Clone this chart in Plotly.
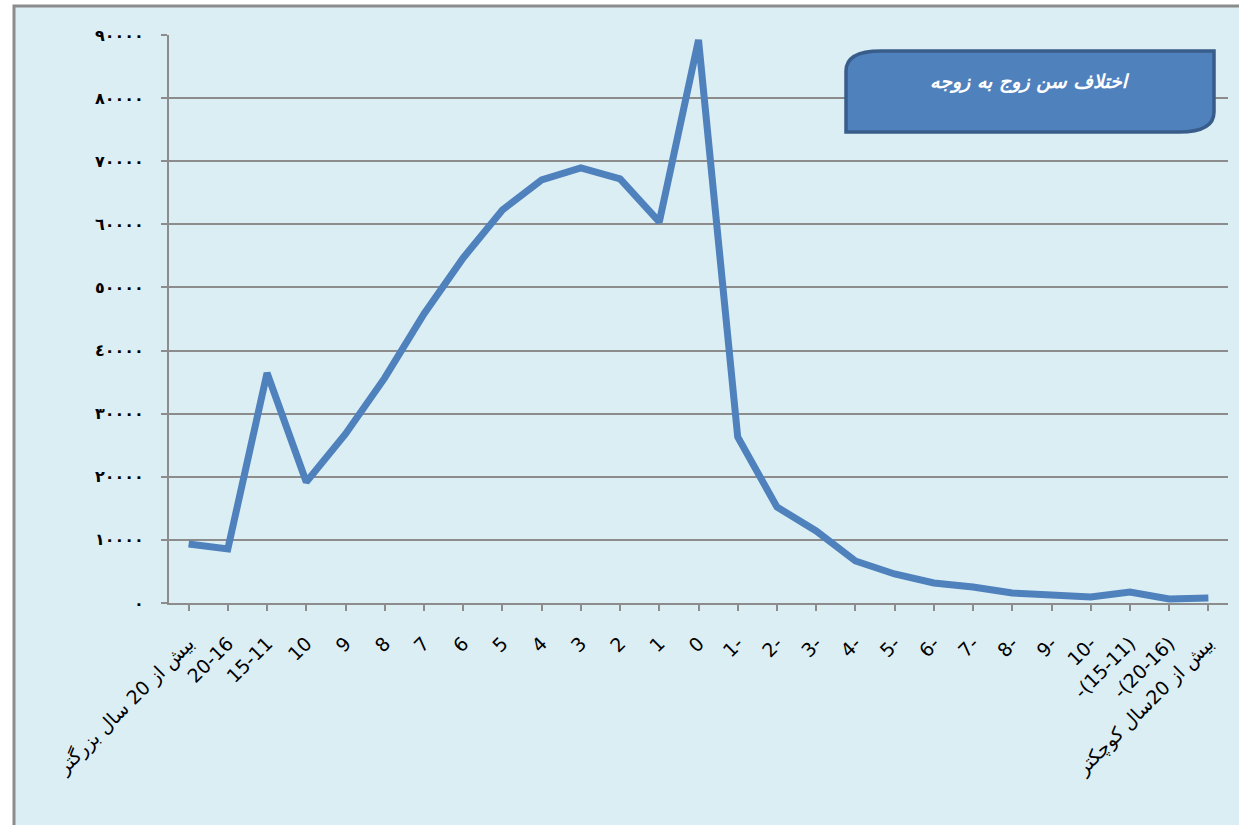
import plotly.graph_objects as go

categories = [
    "بیش از 20 سال بزرگتر", "20-16", "15-11", "10", "9", "8", "7", "6", "5",
    "4", "3", "2", "1", "0", "1-", "2-", "3-", "4-", "5-", "6-", "7-", "8-",
    "9-", "10-", "-(15-11)", "-(20-16)", "بیش از 20سال کوچکتر",
]
values = [
    9350, 8560, 36450, 19180, 26780, 35660, 45800, 54670, 62280, 67040,
    68940, 67200, 60380, 89220, 26300, 15210, 11410, 6660, 4600, 3170,
    2540, 1580, 1270, 950, 1740, 630, 790,
]
y_tickvals = [0, 10000, 20000, 30000, 40000, 50000, 60000, 70000, 80000, 90000]
y_ticktext = ["٠", "١٠٠٠٠", "٢٠٠٠٠", "٣٠٠٠٠", "٤٠٠٠٠", "٥٠٠٠٠",
              "٦٠٠٠٠", "٧٠٠٠٠", "٨٠٠٠٠", "٩٠٠٠٠"]
title_text = "اختلاف سن زوج به زوجه"

fig = go.Figure()
fig.add_trace(go.Scatter(
    x=list(range(len(categories))), y=values, mode="lines",
    line=dict(color="#4F81BD", width=7), hoverinfo="skip",
))

W, H = 1239, 825
L, R, T, B = 169, 1228, 35, 603
pw, ph = R - L, B - T

def px(x):
    return (x - L) / pw

def py(y):
    return 1 - (y - T) / ph

shapes = []
shapes.append(dict(type="rect", xref="paper", yref="paper",
                   x0=px(14), x1=px(1250), y0=py(840), y1=py(6),
                   fillcolor="#DBEEF4", line=dict(color="#8C8C8C", width=3),
                   layer="below"))
x0, x1 = px(846), px(1214)
yt, yb = py(51), py(132)
rx, ry = 35 / pw, 20 / ph
path = (f"M {x0},{yb} L {x0},{yt - ry} Q {x0},{yt} {x0 + rx},{yt} "
        f"L {x1},{yt} L {x1},{yb + ry} Q {x1},{yb} {x1 - rx},{yb} Z")
shapes.append(dict(type="path", xref="paper", yref="paper", path=path,
                   fillcolor="#4F81BD", line=dict(color="#385D8A", width=3.5),
                   layer="above"))

fig.update_layout(
    width=W, height=H,
    margin=dict(l=L, r=W - R, t=T, b=H - B),
    paper_bgcolor="white",
    plot_bgcolor="rgba(0,0,0,0)",
    showlegend=False,
    shapes=shapes,
    font=dict(family="DejaVu Sans", color="black"),
    annotations=[dict(
        text=f"<b><i>{title_text}</i></b>", xref="paper", yref="paper",
        x=px(1030), y=py(81), showarrow=False,
        font=dict(family="DejaVu Sans", size=19, color="white"),
        xanchor="center", yanchor="middle",
    )],
)
fig.update_xaxes(
    tickmode="array", tickvals=list(range(len(categories))), ticktext=categories,
    range=[-0.5, len(categories) - 0.5], tickangle=-45,
    tickfont=dict(family="DejaVu Sans", size=19, color="black"),
    showgrid=False, zeroline=False,
    showline=True, linecolor="#8C8C8C", linewidth=2,
    ticks="outside", ticklen=6, tickcolor="#8C8C8C", tickwidth=2,
    tickson="boundaries", ticklabelstandoff=14,
)
fig.update_yaxes(
    range=[0, 90000], tickmode="array", tickvals=y_tickvals, ticktext=y_ticktext,
    tickfont=dict(family="DejaVu Sans", size=16, color="black", weight="bold"),
    showgrid=True, gridcolor="#8C8C8C", gridwidth=1.5, zeroline=False,
    showline=True, linecolor="#8C8C8C", linewidth=2,
    ticks="outside", ticklen=6, tickcolor="#8C8C8C", tickwidth=2,
    ticklabelstandoff=14,
)

fig.write_html("out.html", config={"displayModeBar": False},
               post_script="document.body.style.margin='0px';")
